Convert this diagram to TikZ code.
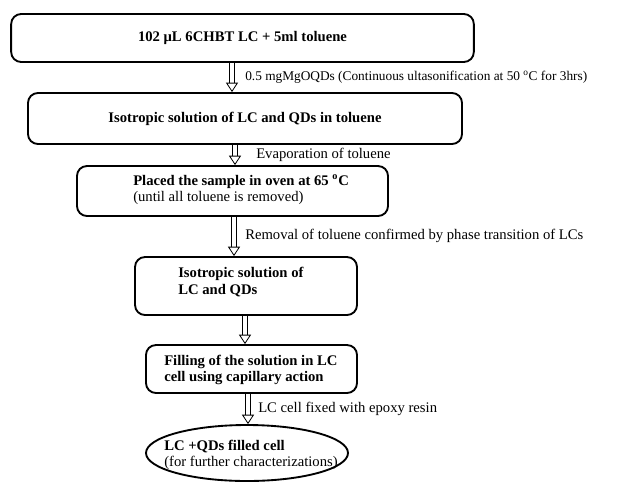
\documentclass[tikz,border=0pt]{standalone}
\usepackage{fontspec}
\setmainfont{Liberation Serif}
\usetikzlibrary{arrows.meta,shapes.geometric}
\begin{document}
\begin{tikzpicture}[x=0.75pt, y=-0.75pt,
	stepbox/.style={draw, line width=1.4pt, rounded corners=7.5pt, inner sep=0pt, font=\fontsize{11}{12.5}\selectfont\bfseries},
	endbox/.style={draw, ellipse, line width=1.4pt, inner sep=0pt},
	hollow/.style={double, double distance=3pt, line width=0.6pt, -{Triangle[open, length=7pt, width=9pt]}},
	note/.style={anchor=west, inner sep=0pt, font=\fontsize{11}{12}\selectfont},
	steptext/.style={anchor=west, inner sep=0pt, align=left, font=\fontsize{11}{12.5}\selectfont}]
	
	\useasboundingbox (0,0) rectangle (624,483);
	
	\node [stepbox, minimum width=347pt, minimum height=36pt] (mix) at (242.5,38) {102 μL 6CHBT LC + 5ml toluene};
	
	\node [stepbox, minimum width=325.5pt, minimum height=38.3pt] (iso) at (245,118.5) {Isotropic solution of LC and QDs in toluene\hspace{8pt}};
	
	\node [stepbox, minimum width=233.3pt, minimum height=37.5pt] (oven) at (232.5,191) {};
	
	\node [steptext] (oventext) at (133,190) {\textbf{Placed the sample in oven at 65 \textsuperscript{o}C}\\(until all toluene is removed)};
	
	\node [stepbox, minimum width=166.5pt, minimum height=43.5pt] (dry) at (246,286) {};
	
	\node [steptext] (drytext) at (178,282) {\textbf{Isotropic solution of}\\\textbf{LC and QDs}};
	
	\node [stepbox, minimum width=158.3pt, minimum height=36pt] (fill) at (251.5,369) {};
	
	\node [steptext] (filltext) at (164,370) {\textbf{Filling of the solution in LC}\\\textbf{cell using capillary action}};
	
	\node [endbox, minimum width=151.5pt, minimum height=42pt] (cell) at (247,453) {};
	
	\node [steptext] (celltext) at (164,455) {\textbf{LC +QDs filled cell}\\(for further characterizations)};
	
	
	\coordinate (x1) at (232,0);
	\coordinate (x2) at (235,0);
	\coordinate (x3) at (234,0);
	\coordinate (x4) at (245,0);
	\coordinate (x5) at (248,0);
	
	\draw [hollow] (x1 |- mix.south) -- (x1 |- iso.north);
	
	\draw [hollow] (x2 |- iso.south) -- (x2 |- oven.north);
	
	\draw [hollow] (x3 |- oven.south) -- (x3 |- dry.north);
	
	\draw [hollow] (x4 |- dry.south) -- (x4 |- fill.north);
	
	\draw [hollow] (x5 |- fill.south) -- (x5 |- cell.north);
	
	
	\node [note, font=\fontsize{10}{12}\selectfont] (add) at (245,77) {0.5 mgMgOQDs (Continuous ultasonification at 50 \textsuperscript{o}C for 3hrs)};
	
	\node [note] (evap) at (256,155) {Evaporation of toluene};
	
	\node [note] (check) at (245,236) {Removal of toluene confirmed by phase transition of LCs};
	
	\node [note] (seal) at (258,409) {LC cell fixed with epoxy resin};
	
\end{tikzpicture}
\end{document}
